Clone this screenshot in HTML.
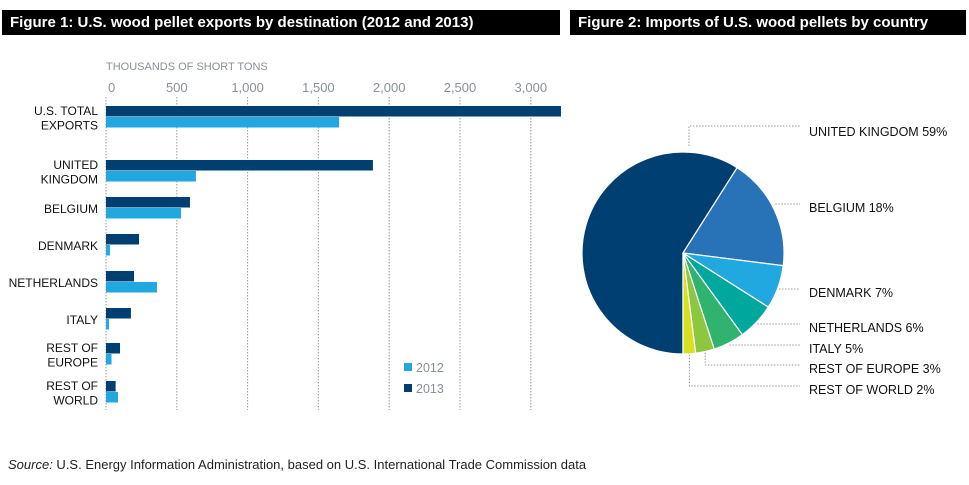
<!DOCTYPE html>
<html><head><meta charset="utf-8"><style>
body{margin:0;background:#fff;font-family:"Liberation Sans",sans-serif;}
#wrap{position:relative;width:969px;height:485px;overflow:hidden;}
.tb{position:absolute;top:10px;height:25px;background:#000;color:#fff;font-weight:bold;font-size:15px;line-height:25px;padding-left:8px;box-sizing:border-box;}
svg text{font-family:"Liberation Sans",sans-serif;}
</style></head><body>
<div id="wrap">
<div class="tb" style="left:2px;width:558px">Figure 1: U.S. wood pellet exports by destination (2012 and 2013)</div>
<div class="tb" style="left:570px;width:396px">Figure 2: Imports of U.S. wood pellets by country</div>
<svg id="svg" width="969" height="485" style="position:absolute;left:0;top:0"></svg>
<div style="position:absolute;left:8px;top:457px;font-size:13px;color:#222"><i>Source:</i> U.S. Energy Information Administration, based on U.S. International Trade Commission data</div>
</div>
<script>
const categories=[["U.S. TOTAL","EXPORTS"],["UNITED","KINGDOM"],["BELGIUM"],["DENMARK"],["NETHERLANDS"],["ITALY"],["REST OF","EUROPE"],["REST OF","WORLD"]];
const values2013=[3213,1885,593,233,198,176,99,68];
const values2012=[1646,635,530,28,360,21,39,85];
const ticks=[0,500,1000,1500,2000,2500,3000];
const tickLabels=["0","500","1,000","1,500","2,000","2,500","3,000"];
const pieLabels=["UNITED KINGDOM","BELGIUM","DENMARK","NETHERLANDS","ITALY","REST OF EUROPE","REST OF WORLD"];
const pieValues=[59,18,7,6,5,3,2];
const pieColors=["#003f72","#2873b8","#22a8e0","#00a79d","#2fb36f","#8dc63f","#d7df23"];
const NS="http://www.w3.org/2000/svg",svg=document.getElementById('svg');
function mk(t,a,p){const e=document.createElementNS(NS,t);for(const k in a)e.setAttribute(k,a[k]);(p||svg).appendChild(e);return e;}
const x=v=>106+v*(70.8/500);
const groupTop=[106,160,197,234,271,308,343,381];
let t=mk('text',{x:106,y:70,'font-size':11,fill:'#8a9099'});t.textContent="THOUSANDS OF SHORT TONS";


ticks.forEach((v,i)=>{
 let l=mk('line',{x1:x(v),x2:x(v),y1:97,y2:410,stroke:'#999','stroke-dasharray':'1.5,1.5','stroke-width':1});
 
 
 let tt=mk('text',{x:x(v)+(i==0?2:0),y:92,'font-size':13,fill:'#8a9099','text-anchor':i==0?'start':'middle'});tt.textContent=tickLabels[i];
 
 
});
categories.forEach((c,i)=>{
 const y0=groupTop[i];
 let b=mk('rect',{x:x(0),y:y0,width:x(values2013[i])-x(0),height:10.5,fill:'#003f72'});
 
 
 let b2=mk('rect',{x:x(0),y:y0+11,width:x(values2012[i])-x(0),height:10.5,fill:'#22a8e0'});
 
 
 const cy=y0+11;
 c.forEach((s,j)=>{let tx=mk('text',{x:98,y:c.length==1?cy+5:cy-2+j*14.5,'font-size':12,fill:'#111','text-anchor':'end'});tx.textContent=s;
 
 });
});
[["2012","#22a8e0",368],["2013","#003f72",389]].forEach(d=>{
 let r=mk('rect',{x:404,y:d[2]-5,width:8,height:8,fill:d[1]});
 
 
 let tx=mk('text',{x:416,y:d[2]+4,'font-size':12.5,fill:'#8a9099'});tx.textContent=d[0];
 
 
});
const cx=683,cy=253,R=101;const tot=pieValues.reduce((a,b)=>a+b,0);
let ang=Math.PI;
const labY=[132,208,293,328,349,369,390];
pieValues.forEach((v,i)=>{
 const a0=ang,a1=ang+v/tot*2*Math.PI;ang=a1;
 const p=a=>[cx+R*Math.sin(a),cy-R*Math.cos(a)];
 const [x0,y0]=p(a0),[x1,y1]=p(a1);
 let s=mk('path',{d:`M${cx},${cy}L${x0},${y0}A${R},${R} 0 ${a1-a0>Math.PI?1:0} 1 ${x1},${y1}Z`,fill:pieColors[i],stroke:'#fff','stroke-width':1.2});
 
 
 const am=(a0+a1)/2;let [ex,ey]=[cx+(R+1)*Math.sin(am),cy-(R+1)*Math.cos(am)];
 let pts;
 if(i==0)pts=`${689},${146} ${689},${126} ${800},${126}`;
 else if(i>=5)pts=`${ex},${ey} ${ex},${labY[i]-4} ${800},${labY[i]-4}`;
 else pts=`${Math.max(ex,cx)},${labY[i]-4} ${800},${labY[i]-4}`;
 let l=mk('polyline',{points:pts,fill:'none',stroke:'#999','stroke-dasharray':'1.5,1.5'});
 
 
 let tx=mk('text',{x:809,y:labY[i]+4,'font-size':12.5,fill:'#111'});tx.textContent=pieLabels[i]+" "+v+"%";
 
 
});
</script>
</body></html>
